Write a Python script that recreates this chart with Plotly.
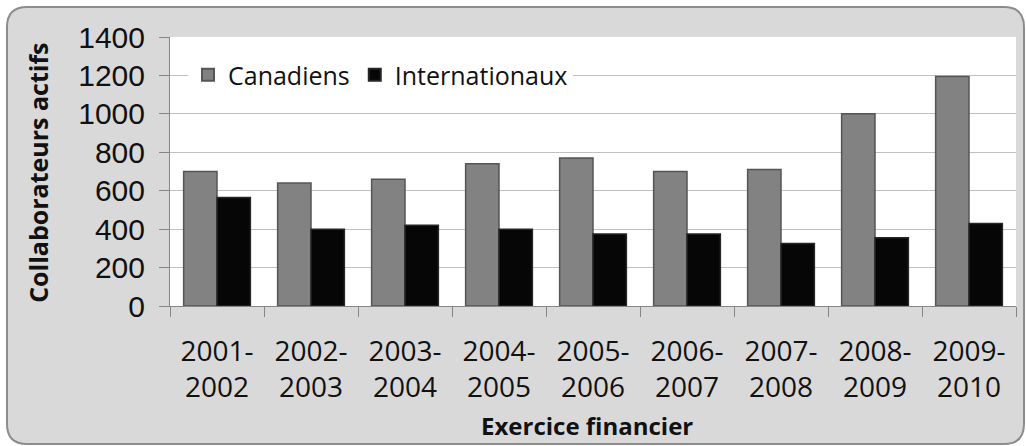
import plotly.graph_objects as go

categories = ["2001-<br>2002", "2002-<br>2003", "2003-<br>2004", "2004-<br>2005",
              "2005-<br>2006", "2006-<br>2007", "2007-<br>2008", "2008-<br>2009",
              "2009-<br>2010"]
canadiens = [700, 640, 660, 740, 770, 700, 710, 1000, 1195]
internationaux = [565, 400, 420, 400, 375, 375, 325, 355, 430]
y_ticks = [0, 200, 400, 600, 800, 1000, 1200, 1400]

W, H = 1026, 446
L, R, T, B = 170, 10, 37, 140
pw, ph = W - L - R, H - T - B

def px(x):
    return (x - L) / pw

def py(y):
    return (H - B - y) / ph

fig = go.Figure()
fig.add_trace(go.Bar(x=categories, y=canadiens, name="Canadiens",
                     marker=dict(color="#828282", line=dict(color="#555555", width=1.5))))
fig.add_trace(go.Bar(x=categories, y=internationaux, name="Internationaux",
                     marker=dict(color="#060606", line=dict(color="#262626", width=1.5))))

# outer rounded box (decoration)
x0, x1, y0, y1, r = 7, 1024, 7, 444, 20
path = (f"M {px(x0+r)} {py(y0)} L {px(x1-r)} {py(y0)} Q {px(x1)} {py(y0)} {px(x1)} {py(y0+r)} "
        f"L {px(x1)} {py(y1-r)} Q {px(x1)} {py(y1)} {px(x1-r)} {py(y1)} "
        f"L {px(x0+r)} {py(y1)} Q {px(x0)} {py(y1)} {px(x0)} {py(y1-r)} "
        f"L {px(x0)} {py(y0+r)} Q {px(x0)} {py(y0)} {px(x0+r)} {py(y0)} Z")
fig.add_shape(type="path", path=path, xref="paper", yref="paper", layer="below",
              fillcolor="#d9d9d9", line=dict(color="#8c8c8c", width=2))
fig.add_shape(type="rect", xref="paper", yref="paper", x0=0, x1=1, y0=0, y1=1,
              layer="below", fillcolor="white", line=dict(width=0))

fig.add_annotation(text="<b>Collaborateurs actifs</b>", xref="paper", yref="paper",
                   x=px(38), y=0.495, xanchor="center", yanchor="middle",
                   textangle=-90, showarrow=False,
                   font=dict(family="Open Sans", size=25, color="#111111"))
fig.add_annotation(text="<b>Exercice financier</b>", xref="paper", yref="paper",
                   x=px(587), y=py(425), xanchor="center", yanchor="middle",
                   showarrow=False,
                   font=dict(family="Open Sans", size=24, color="#111111"))

fig.update_layout(
    width=W, height=H,
    margin=dict(l=L, r=R, t=T, b=B),
    paper_bgcolor="white", plot_bgcolor="white",
    barmode="group", bargap=0.29, bargroupgap=0,
    showlegend=True,
    legend=dict(orientation="h", x=px(188), y=py(52), xanchor="left", yanchor="top",
                bgcolor="white", font=dict(family="Open Sans", size=25, color="#111111"),
                itemsizing="constant", tracegroupgap=0),
    xaxis=dict(showgrid=False, showline=True, linecolor="#868686", linewidth=1,
               ticks="outside", ticklen=10, tickcolor="#868686", tickson="boundaries",
               tickfont=dict(family="Open Sans", size=28, color="#111111"),
               ticklabelstandoff=20),
    yaxis=dict(range=[0, 1400], tickvals=y_ticks, showgrid=True, gridcolor="#c0c0c0",
               gridwidth=1, showline=True, linecolor="#868686", linewidth=1,
               ticks="outside", ticklen=10, tickcolor="#868686", zeroline=False,
               tickfont=dict(family="Liberation Sans", size=30, color="#111111"),
               ticklabelstandoff=8),
)

fig.write_html("out.html", config={"displayModeBar": False},
               post_script="document.body.style.margin='0';document.body.style.overflow='hidden';")
